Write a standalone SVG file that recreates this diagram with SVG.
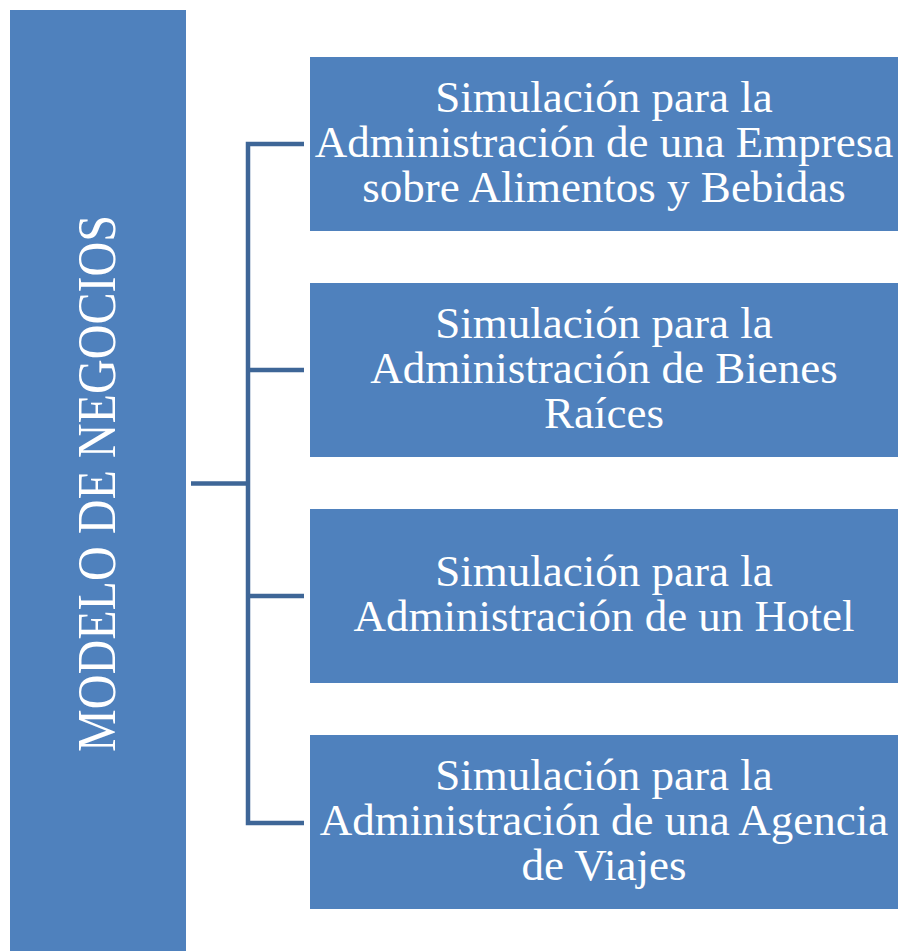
<svg xmlns="http://www.w3.org/2000/svg" width="899" height="951" viewBox="0 0 899 951">
<style>
.box{fill:#4F81BD}
.t{font-family:"Liberation Serif","DejaVu Serif",serif;font-size:45px;fill:#FFFFFF;text-anchor:middle}
.v{font-family:"Liberation Serif","DejaVu Serif",serif;font-size:54px;fill:#FFFFFF;text-anchor:middle}
.c{fill:none;stroke:#3E6697;stroke-width:4.5}
</style>
<rect width="899" height="951" fill="#FFFFFF"/>
<g id="connectors">
<path class="c" d="M191,483.5 H248"/>
<path class="c" d="M304,144 H248 V823 H304"/>
<path class="c" d="M248,370 H304"/>
<path class="c" d="M248,596 H304"/>
</g>
<g id="root">
<rect class="box" x="10" y="10" width="176" height="941"/>
<text class="v" transform="translate(115,483.5) rotate(-90)" x="0" y="0" textLength="537" lengthAdjust="spacingAndGlyphs">MODELO DE NEGOCIOS</text>
</g>
<g id="n1">
<rect class="box" x="310" y="57" width="588" height="174"/>
<text class="t" x="604" y="112">Simulación para la</text>
<text class="t" x="604" y="157">Administración de una Empresa</text>
<text class="t" x="604" y="202">sobre Alimentos y Bebidas</text>
</g>
<g id="n2">
<rect class="box" x="310" y="283" width="588" height="174"/>
<text class="t" x="604" y="338">Simulación para la</text>
<text class="t" x="604" y="383">Administración de Bienes</text>
<text class="t" x="604" y="428">Raíces</text>
</g>
<g id="n3">
<rect class="box" x="310" y="509" width="588" height="174"/>
<text class="t" x="604" y="586">Simulación para la</text>
<text class="t" x="604" y="631">Administración de un Hotel</text>
</g>
<g id="n4">
<rect class="box" x="310" y="735" width="588" height="174"/>
<text class="t" x="604" y="790">Simulación para la</text>
<text class="t" x="604" y="835">Administración de una Agencia</text>
<text class="t" x="604" y="880">de Viajes</text>
</g>
</svg>
